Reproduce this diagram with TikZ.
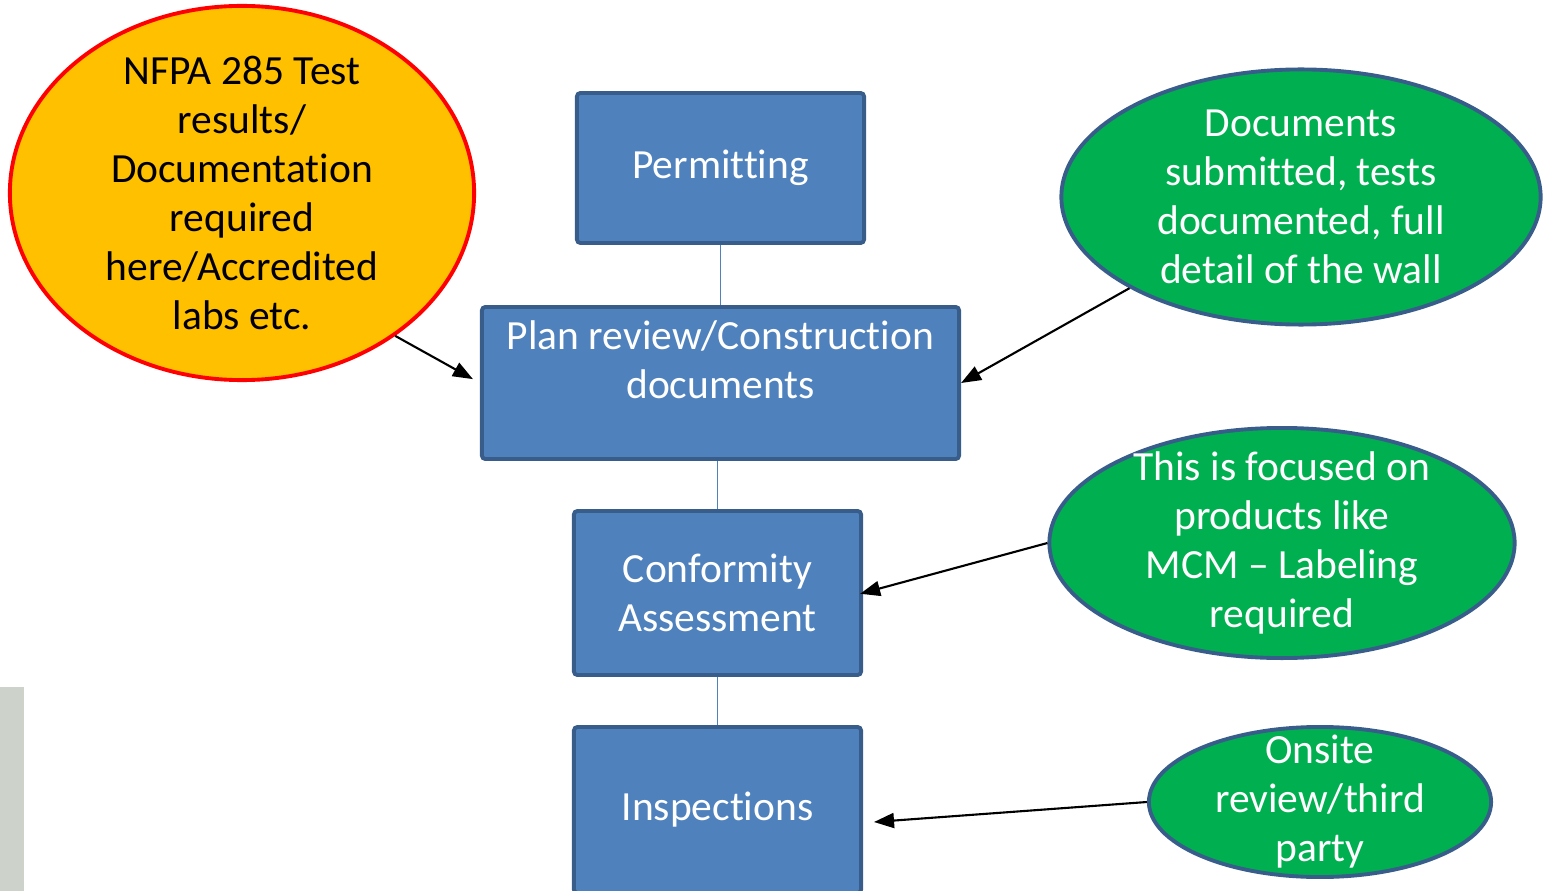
\documentclass[tikz,border=0pt]{standalone}
\usepackage{fontspec}
\setmainfont{Carlito}[Ligatures=NoCommon]
\usetikzlibrary{arrows.meta,shapes.geometric}
\definecolor{boxblue}{HTML}{4F81BD}
\definecolor{boxedge}{HTML}{385D8A}
\definecolor{leafgreen}{HTML}{00B050}
\definecolor{gold}{HTML}{FFC000}
\definecolor{sidegray}{HTML}{CDD3CB}
\tikzset{>/.tip={Triangle[length=0.2cm,width=0.15cm]},
  stage/.style={draw=boxedge, line width=1.1pt, fill=boxblue, text=white,
    rounded corners=1pt, align=center, inner sep=0pt},
  note/.style={ellipse, draw=boxedge, line width=1.1pt, fill=leafgreen,
    text=white, align=center, inner sep=-0.6cm},
  pointer/.style={->, line width=0.6pt, black},
  link/.style={draw=boxblue, line width=0.5pt}}

\begin{document}
\begin{tikzpicture}[x=0.01cm, y=-0.01cm, font=\fontsize{11.8}{13.95}\selectfont]
\useasboundingbox (0,0) rectangle (1551,891);
\fill[sidegray] (0,687) rectangle (24,891);

\node[stage, minimum width=2.87cm, minimum height=1.5cm] (perm) at (720.5,168) {Permitting};
\node[stage, minimum width=4.77cm, minimum height=1.52cm,
  label={[text=white, align=center, yshift=0.235cm]center:Plan review/Construction\\documents}]
  (plan) at (720.5,383) {};
\node[stage, minimum width=2.87cm, minimum height=1.64cm] (conf) at (717.5,593) {Conformity\\Assessment};
\node[stage, minimum width=2.87cm, minimum height=1.66cm] (insp) at (717.5,810) {Inspections};

\node[ellipse, draw=red, line width=1.1pt, fill=gold, align=center, inner sep=-0.6cm,
  minimum width=4.64cm, minimum height=3.74cm] (labs) at (242,193)
  {NFPA 285 Test\\results/\\Documentation\\required\\here/Accredited\\labs etc.};
\node[note, minimum width=4.79cm, minimum height=2.55cm] (docs) at (1301,197)
  {Documents\\submitted, tests\\documented, full\\detail of the wall};
\node[note, minimum width=4.65cm, minimum height=2.3cm] (mcm) at (1282,543)
  {This is focused on\\products like\\MCM -- Labeling\\required};
\node[note, minimum width=3.42cm, minimum height=1.5cm] (site) at (1320,802)
  {Onsite\\review/third\\party};

\draw[link] (perm) to (plan);
\draw[link] (conf.north) to (conf.north |- plan.south);
\draw[link] (insp.north) to (insp.north |- conf.south);

\draw[pointer, shorten >=0.08cm] (labs.-43) to (plan.west);
\draw[pointer] (docs.208) to (plan.east);
\draw[pointer, shorten >=-0.03cm] (mcm.west) to (conf.east);
\draw[pointer] (site.west) to ([xshift=0.11cm, yshift=-0.12cm]insp.east);
\end{tikzpicture}
\end{document}
